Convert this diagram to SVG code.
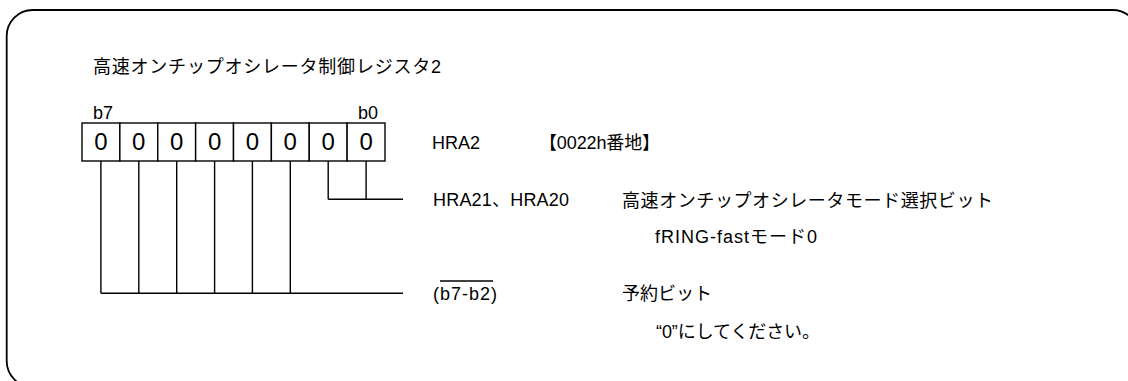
<svg xmlns="http://www.w3.org/2000/svg" width="1128" height="381" viewBox="0 0 1128 381">
<style>
text{font-family:"Liberation Sans","Noto Sans CJK JP",sans-serif;fill:#000;font-size:18px}
.z{font-size:24px;text-anchor:middle}
.ln{stroke:#000;stroke-width:1.4;fill:none}
.cell{stroke:#000;stroke-width:1.4;fill:#fff}
</style>
<rect x="6.7" y="10" width="1132" height="377" rx="26" ry="26" fill="#fff" stroke="#000" stroke-width="1.8"/>
<g id="title"><text x="93" y="73" textLength="348" lengthAdjust="spacing">高速オンチップオシレータ制御レジスタ2</text></g>
<g id="register">
<text x="93" y="119">b7</text>
<text x="358" y="119">b0</text>
<rect class="cell" x="82" y="123" width="37.875" height="38"/>
<rect class="cell" x="119.875" y="123" width="37.875" height="38"/>
<rect class="cell" x="157.75" y="123" width="37.875" height="38"/>
<rect class="cell" x="195.625" y="123" width="37.875" height="38"/>
<rect class="cell" x="233.5" y="123" width="37.875" height="38"/>
<rect class="cell" x="271.375" y="123" width="37.875" height="38"/>
<rect class="cell" x="309.25" y="123" width="37.875" height="38"/>
<rect class="cell" x="347.125" y="123" width="37.875" height="38"/>
<text class="z" x="100.9" y="150">0</text>
<text class="z" x="138.8" y="150">0</text>
<text class="z" x="176.7" y="150">0</text>
<text class="z" x="214.6" y="150">0</text>
<text class="z" x="252.4" y="150">0</text>
<text class="z" x="290.3" y="150">0</text>
<text class="z" x="328.2" y="150">0</text>
<text class="z" x="366.1" y="150">0</text>
<text x="432" y="149">HRA2</text>
<text x="539" y="149" textLength="121" lengthAdjust="spacing">【0022h番地】</text>
</g>
<g id="connectors">
<path class="ln" d="M100.9 161V293.3M138.8 161V293.3M176.7 161V293.3M214.6 161V293.3M252.4 161V293.3M290.3 161V293.3M100.9 293.3H403"/>
<path class="ln" d="M328.2 161V199.3M366.1 161V199.3M328.2 199.3H403"/>
</g>
<g id="hra21-20">
<text x="433" y="206" textLength="136" lengthAdjust="spacing">HRA21、HRA20</text>
<text x="622" y="207" textLength="371" lengthAdjust="spacing">高速オンチップオシレータモード選択ビット</text>
<text x="655" y="243" textLength="162" lengthAdjust="spacing">fRING-fastモード0</text>
</g>
<g id="reserved">
<text x="433" y="300" textLength="64" lengthAdjust="spacing">(b7-b2)</text>
<line class="ln" x1="440" y1="281" x2="493" y2="281" stroke-width="1.2"/>
<text x="622" y="300" textLength="90" lengthAdjust="spacing">予約ビット</text>
<text x="656" y="338" textLength="164" lengthAdjust="spacing">“0”にしてください。</text>
</g>
</svg>
